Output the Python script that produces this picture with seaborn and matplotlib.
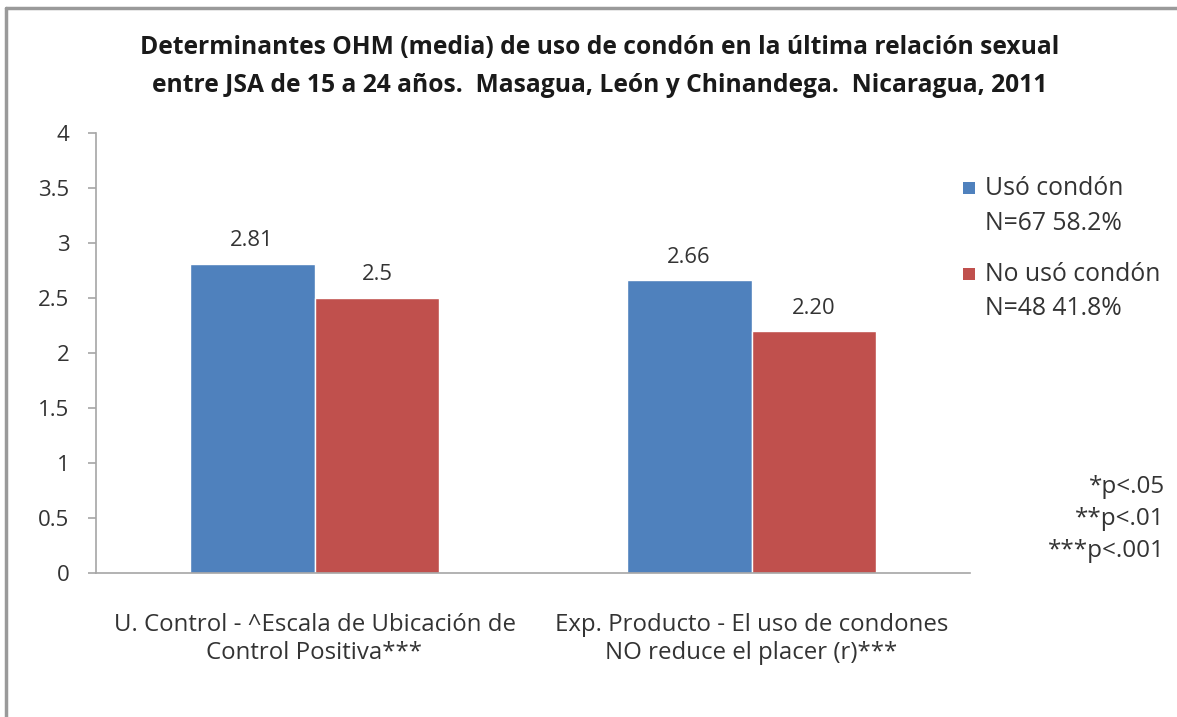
import matplotlib
matplotlib.use("Agg")
import matplotlib.pyplot as plt
from matplotlib.lines import Line2D
from matplotlib.patches import Rectangle
from matplotlib.ticker import FuncFormatter
import seaborn as sns
import pandas as pd

categories = ["U. Control - ^Escala de Ubicación de\nControl Positiva***",
              "Exp. Producto - El uso de condones\nNO reduce el placer (r)***"]
series_names = ["Usó condón\nN=67 58.2%", "No usó condón\nN=48 41.8%"]
uso_condon = [2.81, 2.66]
no_uso_condon = [2.5, 2.20]
value_labels_uso = ["2.81", "2.66"]
value_labels_no = ["2.5", "2.20"]
yticks = [0, 0.5, 1, 1.5, 2, 2.5, 3, 3.5, 4]
pvalue_note = "*p<.05\n**p<.01\n***p<.001"
title_lines = ["Determinantes OHM (media) de uso de condón en la última relación sexual",
               "entre JSA de 15 a 24 años.  Masagua, León y Chinandega.  Nicaragua, 2011"]

colors = ["#4F81BD", "#C0504D"]
TXT = "#333333"
W, H = 1177, 717

sns.set_theme(style="white")
plt.rcParams['font.family'] = ['Open Sans', 'DejaVu Sans']

df = pd.DataFrame({
    "cat": categories * 2,
    "serie": [series_names[0]] * 2 + [series_names[1]] * 2,
    "val": uso_condon + no_uso_condon,
})

fig = plt.figure(figsize=(W / 100, H / 100), dpi=100)
ax = fig.add_axes([96 / W, 1 - 573 / H, (970 - 96) / W, (573 - 133) / H])

sns.barplot(data=df, x="cat", y="val", hue="serie", palette=colors,
            width=0.572, saturation=1, ax=ax, legend=False)

for container, labels in zip(ax.containers, [value_labels_uso, value_labels_no]):
    ax.bar_label(container, labels=labels, padding=9, fontsize=15.8, color=TXT)

ax.set_ylim(0, 4)
ax.set_yticks(yticks)
ax.yaxis.set_major_formatter(FuncFormatter(lambda v, p: f"{v:g}"))
ax.set_xlim(-0.5, 1.5)
ax.set_xlabel("")
ax.set_ylabel("")
for s in ["top", "right"]:
    ax.spines[s].set_visible(False)
for s in ["left", "bottom"]:
    ax.spines[s].set_color("#A6A6A6")
    ax.spines[s].set_linewidth(1.2)
ax.tick_params(axis="y", which="major", left=True, length=6, width=1.2, color="#A6A6A6",
               labelsize=16, labelcolor=TXT, pad=13)
ax.tick_params(axis="x", bottom=False, labelsize=17.3, labelcolor=TXT, pad=23)
for lbl in ax.get_xticklabels():
    lbl.set_linespacing(1.22)

# legend (drawn manually to keep the marker on the first text line)
leg_items = [(series_names[0], colors[0], 188), (series_names[1], colors[1], 274)]
for label, col, yc in leg_items:
    fig.add_artist(Rectangle((963 / W, 1 - (yc + 6) / H), 12 / W, 12 / H,
                             transform=fig.transFigure, facecolor=col, edgecolor="none"))
    fig.text(985 / W, 1 - (yc - 12) / H, label, ha="left", va="top",
             fontsize=17.8, color=TXT, linespacing=1.5)

fig.text(600 / W, 1 - 48 / H, title_lines[0],
         ha="center", va="center", fontsize=17.7, fontweight="bold", color="#1a1a1a")
fig.text(600 / W, 1 - 86 / H, title_lines[1],
         ha="center", va="center", fontsize=17.7, fontweight="bold", color="#1a1a1a")

fig.text(1165 / W, 1 - 519 / H, pvalue_note,
         ha="right", va="center", fontsize=17.5, color=TXT, linespacing=1.45)

fig.add_artist(Line2D([6 / W, 6 / W], [0, 1 - 8 / H], transform=fig.transFigure,
                      color="#9a9a9a", linewidth=2.5))
fig.add_artist(Line2D([6 / W, 1], [1 - 8 / H, 1 - 8 / H], transform=fig.transFigure,
                      color="#9a9a9a", linewidth=2.5))

fig.savefig("out.png", dpi=100)
